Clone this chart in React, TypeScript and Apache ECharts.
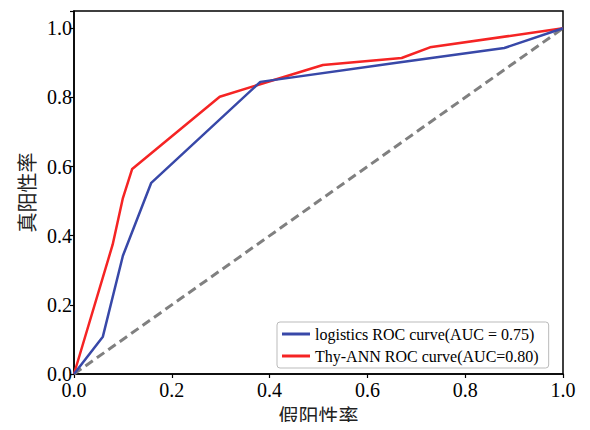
import React, { useEffect, useRef } from "react";
import * as echarts from "echarts";

const logisticsFpr = [0, 0.059, 0.1, 0.158, 0.381, 0.66, 0.88, 1];
const logisticsTpr = [0, 0.108, 0.342, 0.553, 0.845, 0.9, 0.943, 1];
const annFpr = [0, 0.079, 0.1, 0.119, 0.298, 0.509, 0.67, 0.728, 1];
const annTpr = [0, 0.374, 0.509, 0.593, 0.802, 0.894, 0.914, 0.945, 1];
const diagonal = [0, 1];
const seriesNames = ["logistics ROC curve(AUC = 0.75)", "Thy-ANN ROC curve(AUC=0.80)"];
const xName = "假阳性率";
const yName = "真阳性率";

const serif = "Liberation Serif";
const cjk = "Noto Sans CJK SC";

export default function App() {
  const ref = useRef<HTMLDivElement>(null);
  useEffect(() => {
    const chart = echarts.init(ref.current!, null, { renderer: "svg" });
    const zip = (a: number[], b: number[]) => a.map((v, i) => [v, b[i]]);
    const tickStyle = { fontFamily: serif, fontSize: 20, color: "#000" };
    chart.setOption({
      animation: false,
      backgroundColor: "#fff",
      grid: {
        left: 74,
        right: 27,
        top: 11,
        bottom: 56,
        outerBoundsMode: "none",
        containLabel: false,
        show: true,
        borderColor: "#000",
        borderWidth: 1.5,
        backgroundColor: "transparent",
      },
      legend: {
        orient: "vertical",
        left: 277,
        top: 322,
        itemWidth: 28,
        itemHeight: 3,
        itemGap: 6,
        icon: "rect",
        padding: [4, 10, 4, 5],
        backgroundColor: "#fff",
        borderColor: "#bbb",
        borderWidth: 1,
        borderRadius: 3,
        textStyle: { fontFamily: serif, fontSize: 16, color: "#000" },
        data: seriesNames,
      },
      xAxis: {
        type: "value",
        min: 0,
        max: 1,
        interval: 0.2,
        name: xName,
        nameLocation: "middle",
        nameGap: 31,
        nameTextStyle: { fontFamily: cjk, fontSize: 20, color: "#222" },
        axisLine: { show: true, lineStyle: { color: "#000", width: 1.5 } },
        axisTick: { show: true, length: 4, lineStyle: { color: "#000", width: 1.2 } },
        axisLabel: {
          ...tickStyle,
          margin: 6,
          formatter: (v: number) => "{t|" + v.toFixed(1) + "}",
          rich: { t: tickStyle },
        },
        splitLine: { show: false },
      },
      yAxis: {
        type: "value",
        min: 0,
        max: 1.05,
        interval: 0.2,
        name: yName,
        nameLocation: "middle",
        nameRotate: 90,
        nameGap: 38,
        nameTextStyle: { fontFamily: cjk, fontSize: 20, color: "#222" },
        axisLine: { show: true, lineStyle: { color: "#000", width: 1.5 } },
        axisTick: { show: true, length: 4, lineStyle: { color: "#000", width: 1.2 } },
        axisLabel: {
          ...tickStyle,
          margin: 2,
          formatter: (v: number) => (v > 1.001 ? "" : "{t|" + v.toFixed(1) + "}"),
          rich: { t: tickStyle },
        },
        splitLine: { show: false },
      },
      series: [
        {
          type: "line",
          name: "diag",
          data: zip(diagonal, diagonal),
          symbol: "none",
          lineStyle: { color: "#808080", width: 3, type: [9, 5] },
          z: 1,
        },
        {
          type: "line",
          name: seriesNames[0],
          data: zip(logisticsFpr, logisticsTpr),
          symbol: "none",
          color: "#3848a8",
          lineStyle: { color: "#3848a8", width: 2.5 },
          z: 3,
        },
        {
          type: "line",
          name: seriesNames[1],
          data: zip(annFpr, annTpr),
          symbol: "none",
          color: "#f52424",
          lineStyle: { color: "#f52424", width: 2.5 },
          z: 2,
        },
      ],
    });
    return () => chart.dispose();
  }, []);
  return <div ref={ref} style={{ width: 590, height: 430, margin: -8 }} />;
}
